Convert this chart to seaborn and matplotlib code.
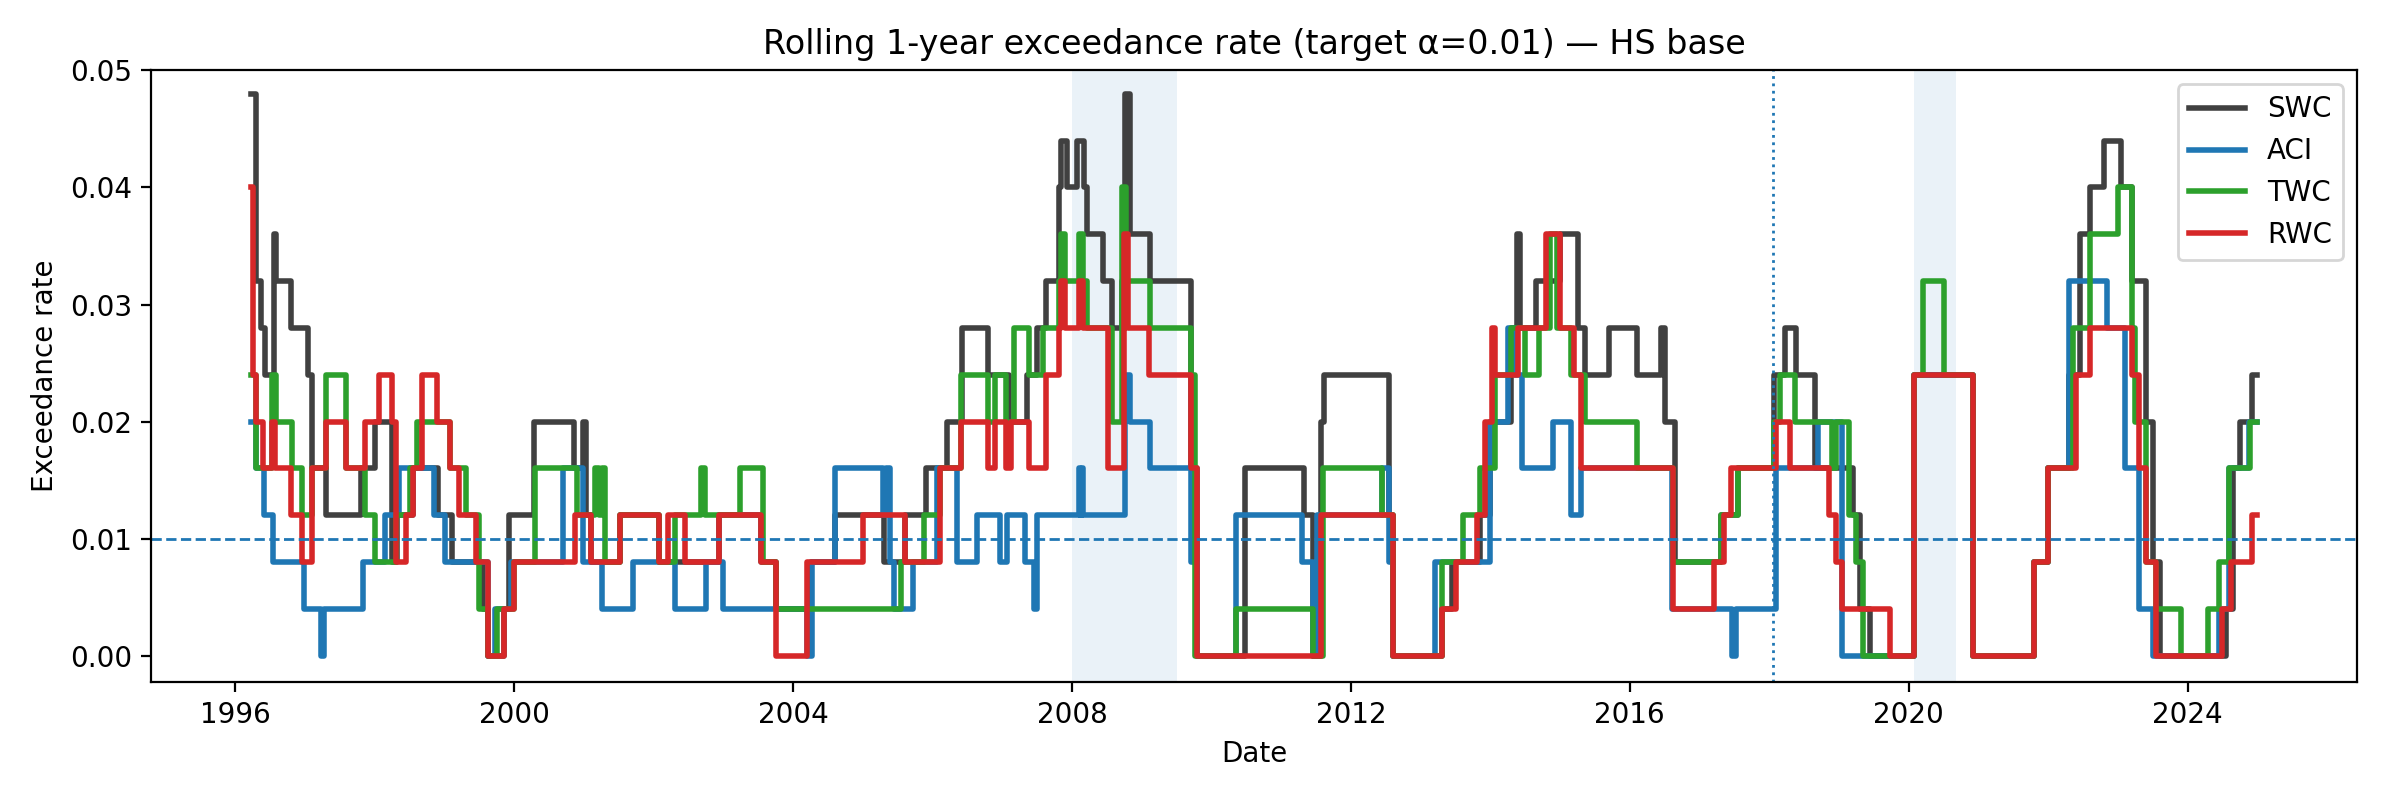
import numpy as np
import pandas as pd
import matplotlib
matplotlib.use("Agg")
import matplotlib.pyplot as plt
import seaborn as sns

# (decimal year where the rolling rate changes, new rate)
swc = [(1996.23, .048), (1996.30, .032), (1996.37, .028), (1996.42, .024), (1996.56, .036), (1996.58, .032),
       (1996.80, .028), (1997.04, .024), (1997.09, .016), (1997.30, .012), (1997.80, .016), (1998.00, .020),
       (1998.25, .008), (1998.32, .012), (1998.55, .016), (1998.90, .012), (1999.10, .008), (1999.55, .004),
       (1999.62, 0), (1999.85, .004), (1999.92, .012), (2000.28, .020), (2000.85, .016), (2000.98, .020),
       (2001.02, .012), (2001.10, .008), (2001.52, .012), (2002.07, .008), (2002.93, .012), (2003.54, .008),
       (2003.76, .004), (2004.25, .008), (2004.60, .012), (2005.30, .008), (2005.60, .012), (2005.90, .016),
       (2006.20, .020), (2006.42, .028), (2006.80, .024), (2007.10, .020), (2007.35, .024), (2007.50, .028),
       (2007.62, .032), (2007.81, .040), (2007.84, .044), (2007.93, .040), (2008.07, .044), (2008.17, .040),
       (2008.22, .036), (2008.45, .032), (2008.57, .028), (2008.71, .032), (2008.76, .048), (2008.83, .036),
       (2009.12, .032), (2009.71, .016), (2009.79, 0), (2010.48, .016), (2011.33, .012), (2011.45, 0),
       (2011.57, .020), (2011.62, .024), (2012.55, .012), (2012.60, 0), (2013.30, .004), (2013.45, .008),
       (2013.85, .012), (2014.00, .020), (2014.30, .028), (2014.38, .036), (2014.43, .028), (2014.65, .032),
       (2015.00, .036), (2015.25, .028), (2015.35, .024), (2015.70, .028), (2016.10, .024), (2016.45, .028),
       (2016.50, .020), (2016.65, .008), (2017.30, .012), (2017.55, .016), (2018.07, .024), (2018.22, .028),
       (2018.38, .024), (2018.65, .016), (2019.20, .012), (2019.30, .004), (2019.45, 0), (2020.07, .024),
       (2020.92, 0), (2021.80, .008), (2022.00, .016), (2022.30, .024), (2022.45, .036), (2022.60, .040),
       (2022.80, .044), (2023.05, .040), (2023.20, .032), (2023.40, .020), (2023.50, .008), (2023.60, 0),
       (2024.55, .004), (2024.65, .016), (2024.75, .020), (2024.93, .024)]

aci = [(1996.23, .020), (1996.30, .016), (1996.41, .012), (1996.54, .008), (1996.98, .004), (1997.22, 0),
       (1997.27, .004), (1997.83, .008), (1998.15, .012), (1998.35, .016), (1998.85, .012), (1999.00, .008),
       (1999.62, 0), (1999.72, .004), (1999.95, .008), (2000.70, .016), (2000.98, .008), (2001.25, .004),
       (2001.70, .008), (2002.30, .004), (2002.75, .008), (2003.00, .004), (2004.20, 0), (2004.27, .008),
       (2004.60, .016), (2005.28, .012), (2005.33, .016), (2005.38, .008), (2005.45, .004), (2005.72, .008),
       (2006.06, .016), (2006.35, .008), (2006.63, .012), (2006.96, .008), (2007.07, .012), (2007.33, .008),
       (2007.45, .004), (2007.50, .012), (2008.10, .016), (2008.12, .012), (2008.14, .016), (2008.16, .012),
       (2008.76, .024), (2008.83, .020), (2009.12, .016), (2009.70, .008), (2009.79, 0), (2010.35, .012),
       (2011.30, .008), (2011.45, 0), (2011.52, .012), (2012.45, .016), (2012.54, .008), (2012.60, 0),
       (2013.20, .008), (2014.00, .020), (2014.25, .028), (2014.35, .024), (2014.45, .016), (2014.90, .020),
       (2015.15, .012), (2015.30, .016), (2016.60, .004), (2017.47, 0), (2017.52, .004), (2018.10, .016),
       (2018.70, .020), (2019.05, 0), (2020.07, .024), (2020.92, 0), (2021.80, .008), (2022.00, .016),
       (2022.30, .032), (2022.85, .028), (2023.10, .016), (2023.30, .004), (2023.50, 0), (2024.45, .004),
       (2024.60, .016), (2024.88, .020)]

twc = [(1996.23, .024), (1996.30, .016), (1996.53, .024), (1996.58, .020), (1996.81, .016), (1996.95, .012),
       (1997.10, .016), (1997.30, .024), (1997.59, .016), (1997.85, .012), (1998.00, .008), (1998.30, .012),
       (1998.50, .016), (1998.60, .020), (1999.07, .016), (1999.30, .012), (1999.50, .004), (1999.62, 0),
       (1999.75, .004), (2000.00, .008), (2000.30, .016), (2000.90, .012), (2001.16, .016), (2001.22, .012),
       (2001.26, .016), (2001.30, .008), (2001.52, .012), (2002.07, .008), (2002.30, .012), (2002.68, .016),
       (2002.73, .012), (2003.24, .016), (2003.56, .008), (2003.76, .004), (2005.55, .008), (2005.87, .012),
       (2006.10, .016), (2006.40, .024), (2006.80, .020), (2006.89, .024), (2007.05, .020), (2007.17, .028),
       (2007.38, .024), (2007.58, .028), (2007.81, .032), (2007.84, .036), (2007.90, .032), (2008.10, .036),
       (2008.16, .032), (2008.22, .028), (2008.57, .020), (2008.72, .040), (2008.78, .032), (2009.12, .028),
       (2009.71, .024), (2009.76, 0), (2010.35, .004), (2011.45, 0), (2011.60, .016), (2012.45, .012),
       (2012.60, 0), (2013.30, .008), (2013.60, .012), (2013.85, .016), (2014.07, .024), (2014.30, .028),
       (2014.50, .024), (2014.70, .028), (2014.85, .036), (2014.95, .028), (2015.15, .024), (2015.35, .020),
       (2016.10, .016), (2016.62, .008), (2017.30, .012), (2017.55, .016), (2018.07, .020), (2018.15, .024),
       (2018.37, .020), (2018.90, .016), (2018.95, .020), (2019.15, .012), (2019.25, .008), (2019.35, 0),
       (2020.07, .024), (2020.20, .032), (2020.50, .024), (2020.92, 0), (2021.80, .008), (2022.00, .016),
       (2022.35, .028), (2022.60, .036), (2023.00, .040), (2023.20, .028), (2023.25, .020), (2023.40, .008),
       (2023.55, .004), (2023.90, 0), (2024.30, .004), (2024.45, .008), (2024.60, .016), (2024.90, .020)]

rwc = [(1996.23, .040), (1996.25, .024), (1996.30, .020), (1996.40, .016), (1996.53, .020), (1996.57, .016),
       (1996.80, .012), (1996.95, .008), (1997.10, .016), (1997.30, .020), (1997.59, .016), (1997.85, .020),
       (1998.06, .024), (1998.25, .020), (1998.30, .008), (1998.45, .012), (1998.55, .016), (1998.67, .024),
       (1998.89, .020), (1999.07, .016), (1999.20, .012), (1999.45, .008), (1999.62, 0), (1999.85, .004),
       (2000.00, .008), (2000.87, .012), (2001.10, .008), (2001.52, .012), (2002.07, .008), (2002.20, .012),
       (2002.45, .008), (2002.93, .012), (2003.54, .008), (2003.76, 0), (2004.20, .008), (2005.00, .012),
       (2005.60, .008), (2006.10, .016), (2006.40, .020), (2006.80, .016), (2006.89, .020), (2007.05, .016),
       (2007.13, .020), (2007.38, .016), (2007.62, .024), (2007.81, .028), (2007.84, .032), (2007.90, .028),
       (2008.10, .032), (2008.16, .028), (2008.52, .016), (2008.74, .036), (2008.80, .028), (2009.10, .024),
       (2009.71, .016), (2009.79, 0), (2011.57, .012), (2012.60, 0), (2013.30, .004), (2013.50, .008),
       (2013.80, .012), (2013.92, .020), (2014.02, .028), (2014.06, .024), (2014.40, .028), (2014.80, .036),
       (2015.00, .028), (2015.20, .024), (2015.30, .016), (2016.62, .004), (2017.20, .008), (2017.35, .012),
       (2017.45, .016), (2018.10, .020), (2018.30, .016), (2018.85, .012), (2018.95, .008), (2019.05, .004),
       (2019.73, 0), (2020.07, .024), (2020.92, 0), (2021.80, .008), (2022.00, .016), (2022.40, .024),
       (2022.60, .028), (2023.20, .024), (2023.30, .016), (2023.40, .008), (2023.55, 0), (2024.50, .004),
       (2024.62, .008), (2024.93, .012)]

end_year = 2024.99
series = {"SWC": swc, "ACI": aci, "TWC": twc, "RWC": rwc}
colors = {"SWC": "#404040", "ACI": "tab:blue", "TWC": "tab:green", "RWC": "tab:red"}

shaded = [(2008.0, 2009.5), (2020.07, 2020.68)]
event_year = 2018.05


def to_date(t):
    t = np.asarray(t, dtype=float)
    yr = np.floor(t).astype(int)
    base = pd.to_datetime(pd.Series(yr).astype(str) + "-01-01")
    return base + pd.to_timedelta((t - yr) * 365.25, unit="D")


fig, ax = plt.subplots(figsize=(12, 4), dpi=200)

for a, b in shaded:
    ax.axvspan(to_date([a])[0], to_date([b])[0], color="tab:blue", alpha=0.09, lw=0)

for name, pts in series.items():
    t = [p[0] for p in pts] + [end_year]
    v = [p[1] for p in pts] + [pts[-1][1]]
    df = pd.DataFrame({"date": to_date(t), "rate": v})
    sns.lineplot(data=df, x="date", y="rate", ax=ax, color=colors[name], lw=2,
                 drawstyle="steps-post", estimator=None, label=name)

ax.axhline(0.01, color="tab:blue", ls="--", lw=1)
ax.axvline(to_date([event_year])[0], color="tab:blue", ls=":", lw=1)

ax.set_ylim(-0.0022, 0.05)
ax.set_title("Rolling 1-year exceedance rate (target α=0.01) — HS base")
ax.set_xlabel("Date")
ax.set_ylabel("Exceedance rate")
ax.legend(loc="upper right")

plt.subplots_adjust(left=0.063, right=0.982, top=0.912, bottom=0.148)
plt.savefig("out.png")
